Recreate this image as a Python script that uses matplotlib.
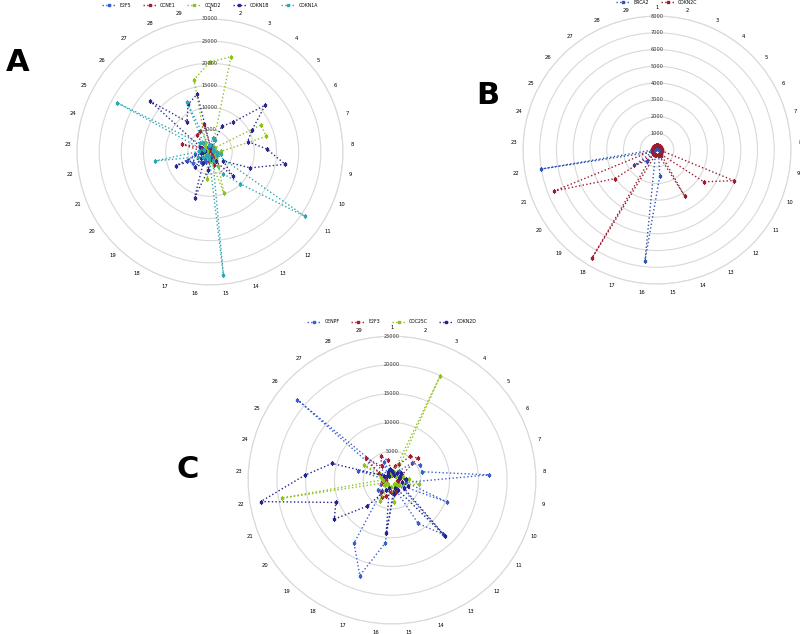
import numpy as np
import matplotlib
matplotlib.use("Agg")
import matplotlib.pyplot as plt

# categorias 1..29 (eje angular)
categorias = [str(i) for i in range(1, 30)]

# Panel A
a_series = ["E2F5", "CCNE1", "CCND2", "CDKN1B", "CDKN1A"]
a_e2f5 = [800, 600, 1200, 900, 700, 1000, 600, 900, 1500, 1200, 800, 2000, 1500, 900, 1200,
          1800, 2500, 2000, 3000, 4500, 5500, 3500, 2500, 1800, 1500, 1200, 1000, 900, 700]
a_ccne1 = [1500, 800, 600, 500, 400, 600, 800, 1200, 900, 700, 1000, 1500, 2500, 3000, 1500,
           2000, 1200, 800, 700, 900, 600, 800, 1500, 6500, 2000, 1500, 4800, 5200, 6400]
a_ccnd2 = [20300, 22000, 1500, 1200, 1500, 13100, 13100, 2500, 1800, 1200, 1500, 2000, 3700, 9650, 2000,
           6200, 1500, 1000, 800, 1200, 900, 1500, 1000, 800, 1200, 1500, 2000, 2500, 16700]
a_cdkn1b = [1500, 1200, 6400, 8400, 16300, 10800, 8800, 12800, 17200, 9700, 3600, 7500, 2500, 1800, 1500,
            4100, 10900, 3000, 4800, 2500, 8300, 2000, 1500, 1200, 2500, 17700, 8600, 11800, 13400]
a_cdkn1a = [1500, 3300, 2900, 1000, 800, 700, 900, 1500, 2500, 1800, 25800, 9900, 5700, 2000, 28000,
            1500, 1000, 800, 1200, 2000, 3000, 12600, 2500, 1500, 23800, 3000, 2500, 12500, 1500]
a_colores = ["#3a5fcd", "#a51c30", "#8dc21f", "#2b2a8c", "#2fa7b3"]
a_ticks = [5000, 10000, 15000, 20000, 25000, 30000]

# Panel B
b_series = ["BRCA2", "CDKN2C"]
b_brca2 = [150, 120, 100, 120, 150, 200, 150, 120, 200, 250, 300, 350, 430, 300, 1550,
           6680, 300, 250, 880, 1640, 300, 7000, 200, 150, 120, 100, 100, 120, 150]
b_cdkn2c = [280, 280, 280, 280, 280, 280, 280, 280, 300, 4940, 3380, 350, 3220, 300, 280,
            280, 300, 7510, 350, 3050, 6600, 300, 280, 280, 280, 280, 280, 280, 280]
b_colores = ["#2f55b5", "#9b1b30"]
b_ticks = [1000, 2000, 3000, 4000, 5000, 6000, 7000, 8000]

# Panel C
c_series = ["CENPF", "E2F3", "CDC25C", "CDKN2D"]
c_cenpf = [800, 1500, 1200, 2000, 4600, 5500, 5400, 16800, 2500, 10300, 1500, 13000, 8800, 1500, 2000,
           11000, 17500, 12800, 2500, 3000, 2000, 1500, 1000, 6200, 2000, 21600, 1200, 3500, 1500]
c_e2f3 = [1500, 2500, 3000, 5200, 5900, 2000, 1500, 1000, 800, 1200, 1500, 1000, 1800, 2200, 2500,
          2000, 3000, 3500, 2800, 1500, 1200, 1800, 1000, 1500, 2500, 6000, 3000, 4600, 3500]
c_cdc25c = [1000, 1500, 20000, 800, 1000, 1500, 2000, 3000, 4700, 2000, 1500, 1000, 800, 1500, 3800,
            1200, 1500, 4200, 1000, 1500, 1200, 19400, 1500, 2000, 5500, 1200, 1000, 800, 1200]
c_cdkn2d = [1500, 1200, 1000, 1500, 2000, 1500, 1200, 2500, 1800, 3000, 2500, 13400, 2000, 1500, 2500,
            9300, 1500, 2000, 6200, 12100, 10500, 23100, 15200, 10800, 1500, 1200, 1000, 1500, 2000]
c_colores = ["#3a5fcd", "#a51c30", "#8dc21f", "#23238f"]
c_ticks = [5000, 10000, 15000, 20000, 25000]


def radar(fig, rect, nombres, valores, colores, ticks, letra, pos_letra):
    ax = fig.add_axes(rect, projection="polar")
    ax.set_theta_zero_location("N")
    ax.set_theta_direction(-1)
    n = len(categorias)
    ang = np.linspace(0, 2 * np.pi, n, endpoint=False)
    for nom, val, col in zip(nombres, valores, colores):
        v = np.array(val + val[:1], dtype=float)
        a = np.append(ang, ang[0])
        ax.plot(a, v, linestyle=":", lw=1.0, color=col, marker="s", ms=1.6, label=nom)
    ax.set_ylim(0, ticks[-1])
    ax.set_yticks(ticks)
    ax.set_yticklabels([])
    ax.yaxis.grid(True, color="#d9d9d9", lw=0.8)
    ax.xaxis.grid(False)
    ax.spines["polar"].set_color("#d9d9d9")
    ax.spines["polar"].set_linewidth(0.8)
    ax.set_xticks(ang)
    ax.set_xticklabels(categorias, fontsize=3.8)
    ax.tick_params(axis="x", pad=-4)
    for t in ticks:
        ax.text(0, t, str(t), fontsize=3.6, ha="center", va="center", color="#333333")
    ax.legend(loc="lower center", bbox_to_anchor=(0.5, 1.035), ncol=len(nombres), frameon=False,
              fontsize=3.3, handlelength=3, columnspacing=2.5, borderaxespad=0)
    fig.text(pos_letra[0], pos_letra[1], letra, fontsize=22, fontweight="bold",
             ha="center", va="center")
    return ax


fig = plt.figure(figsize=(8, 6.34), dpi=100)
radar(fig, [0.09625, 0.5505, 0.3325, 0.4196], a_series,
      [a_e2f5, a_ccne1, a_ccnd2, a_cdkn1b, a_cdkn1a], a_colores, a_ticks, "A", (0.0225, 0.902))
radar(fig, [0.65375, 0.552, 0.335, 0.4227], b_series,
      [b_brca2, b_cdkn2c], b_colores, b_ticks, "B", (0.61, 0.85))
radar(fig, [0.31, 0.01577, 0.36, 0.454], c_series,
      [c_cenpf, c_e2f3, c_cdc25c, c_cdkn2d], c_colores, c_ticks, "C", (0.234, 0.26))
fig.savefig("out.png", dpi=100, facecolor="white")
